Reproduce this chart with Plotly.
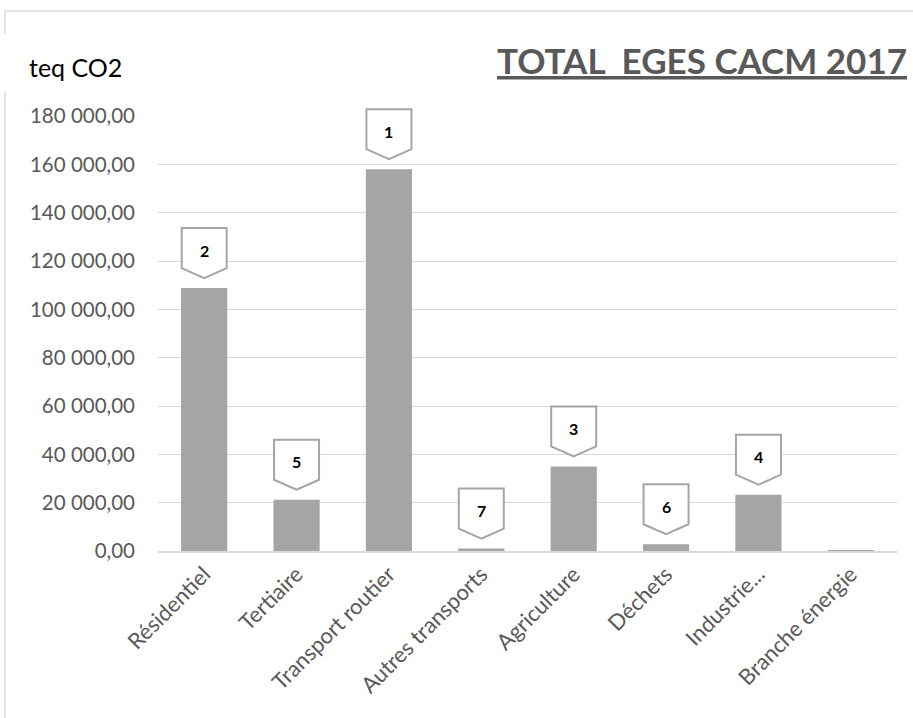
import plotly.graph_objects as go

# Emissions de GES par secteur (teq CO2), CACM 2017
secteurs = ["Résidentiel", "Tertiaire", "Transport routier", "Autres transports",
            "Agriculture", "Déchets", "Industrie...", "Branche énergie"]
emissions = [108800, 21200, 158000, 1000, 35000, 2800, 23300, 150]
rangs = ["2", "5", "1", "7", "3", "6", "4", ""]
y_ticks = [0, 20000, 40000, 60000, 80000, 100000, 120000, 140000, 160000, 180000]
Y_MAX = 180000

GREY_BAR = "#a5a5a5"
GREY_TXT = "#595959"
GRID = "#d9d9d9"

W, H = 913, 718
ML, MR, MT, MB = 158, 16, 116, 167
PW, PH = W - ML - MR, H - MT - MB


def px_x(p):
    return (p - ML) / PW


def px_y(p):
    return (H - MB - p) / PH


fig = go.Figure(
    go.Bar(
        x=secteurs,
        y=emissions,
        marker=dict(color=GREY_BAR, line=dict(width=0)),
        hoverinfo="x+y",
    )
)

shapes = []
annotations = []

# Etiquettes de rang en forme de flèche au-dessus des barres
# (ancrage vertical en fraction du domaine pour ne pas être coupé en haut)
for i, (val, rang) in enumerate(zip(emissions, rangs)):
    if not rang:
        continue
    shapes.append(dict(
        type="path",
        xref="x", yref="paper",
        xsizemode="pixel", ysizemode="pixel",
        xanchor=i, yanchor=val / Y_MAX,
        path="M -22.5,20 L -22.5,60 L 22.5,60 L 22.5,20 L 0,10 Z",
        fillcolor="white",
        line=dict(color=GREY_BAR, width=2),
        layer="above",
    ))
    annotations.append(dict(
        x=i, y=val, xref="x", yref="y",
        text=f"<b>{rang}</b>", showarrow=False,
        yshift=38, yanchor="middle", xanchor="center",
        font=dict(family="Lato", size=16, color="black"),
    ))

# Titre et unité
annotations.append(dict(
    x=px_x(909), y=px_y(60), xref="paper", yref="paper",
    text="<b>TOTAL  EGES CACM 2017</b>", showarrow=False,
    xanchor="right", yanchor="middle",
    font=dict(family="Lato", size=35, color=GREY_TXT, lineposition="under"),
))
annotations.append(dict(
    x=px_x(27), y=px_y(67), xref="paper", yref="paper",
    text="teq CO2", showarrow=False,
    xanchor="left", yanchor="middle",
    font=dict(family="Lato", size=25, color="black"),
))

# Cadre du graphique
for x0, y0, x1, y1 in [
    (5, 11, W, 11),
    (5, 11, 5, 34),
    (5, 92, 5, H),
]:
    shapes.append(dict(
        type="line", xref="paper", yref="paper",
        x0=px_x(x0), y0=px_y(y0), x1=px_x(x1), y1=px_y(y1),
        line=dict(color=GRID, width=1.5), layer="above",
    ))

fig.update_layout(
    width=W, height=H,
    margin=dict(l=ML, r=MR, t=MT, b=MB, autoexpand=False),
    paper_bgcolor="white", plot_bgcolor="white",
    separators=", ",
    bargap=0.5,
    showlegend=False,
    shapes=shapes,
    annotations=annotations,
    font=dict(family="Lato", color=GREY_TXT),
)

fig.update_yaxes(
    range=[0, Y_MAX],
    tickvals=y_ticks,
    tickformat=",.2f",
    showgrid=True, gridcolor=GRID, gridwidth=1.3,
    zeroline=False, showline=False,
    ticks="", ticklabelstandoff=22,
    tickfont=dict(family="Lato", size=20.5, color=GREY_TXT),
)
fig.update_xaxes(
    showline=True, linecolor=GRID, linewidth=1.5,
    ticks="", tickangle=-45,
    tickfont=dict(family="Lato", size=22, color=GREY_TXT),
)

fig.write_html("out.html")
